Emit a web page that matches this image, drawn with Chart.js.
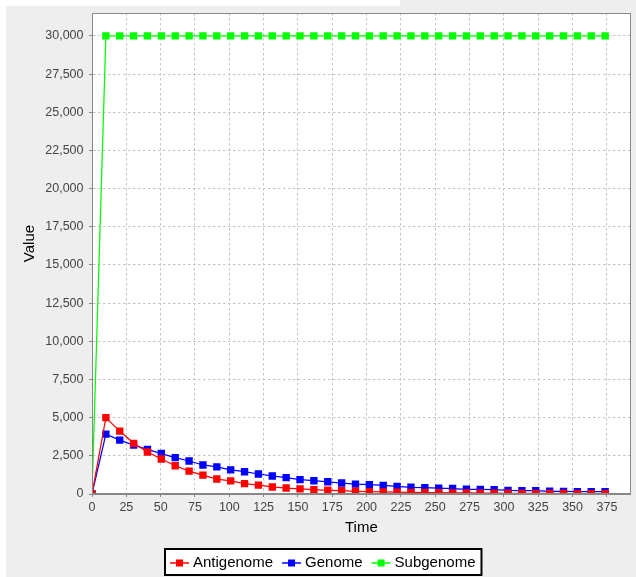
<!DOCTYPE html>
<html>
<head>
<meta charset="utf-8">
<script src="https://cdn.jsdelivr.net/npm/chart.js@4.4.1/dist/chart.umd.min.js"></script>
<style>
  html, body { margin: 0; padding: 0; background: #ffffff; }
  #wrap { width: 636px; height: 577px; }
</style>
</head>
<body>
<div id="wrap"><canvas id="c" width="636" height="577"></canvas></div>
<script>
// Simulation output: time points and copy numbers per RNA species
const times = [0, 10.1, 20.2, 30.3, 40.4, 50.5, 60.6, 70.7, 80.8, 90.9,
  101, 111.1, 121.2, 131.3, 141.4, 151.5, 161.6, 171.7, 181.8, 191.9,
  202, 212.1, 222.2, 232.3, 242.4, 252.5, 262.6, 272.7, 282.8, 292.9,
  303, 313.1, 323.2, 333.3, 343.4, 353.5, 363.6, 373.7];

const antigenome = [0, 5000, 4120, 3320, 2750, 2290, 1850, 1500, 1240, 980,
  860, 680, 580, 460, 390, 340, 290, 245, 215, 180,
  160, 140, 120, 105, 95, 85, 75, 68, 60, 54,
  48, 43, 39, 35, 31, 28, 25, 23];

const genome = [0, 3920, 3530, 3200, 2920, 2650, 2380, 2160, 1900, 1780,
  1580, 1460, 1310, 1180, 1070, 940, 870, 800, 720, 650,
  615, 560, 500, 440, 420, 380, 360, 310, 295, 280,
  235, 225, 215, 180, 170, 160, 155, 150];

const subgenome = [0, 30000, 30000, 30000, 30000, 30000, 30000, 30000, 30000, 30000,
  30000, 30000, 30000, 30000, 30000, 30000, 30000, 30000, 30000, 30000,
  30000, 30000, 30000, 30000, 30000, 30000, 30000, 30000, 30000, 30000,
  30000, 30000, 30000, 30000, 30000, 30000, 30000, 30000];

// Axis tick values
const xTicks = [0, 25, 50, 75, 100, 125, 150, 175, 200, 225, 250, 275, 300, 325, 350, 375];
const yTicks = [0, 2500, 5000, 7500, 10000, 12500, 15000, 17500, 20000, 22500,
  25000, 27500, 30000];

const seriesNames = ['Antigenome', 'Genome', 'Subgenome'];
const seriesColors = ['#ff0000', '#0000ff', '#00ff00'];
const seriesValues = [antigenome, genome, subgenome];

const xTitle = 'Time';
const yTitle = 'Value';

const FONT = '"Liberation Sans", Arial, sans-serif';

function toPoints(values) {
  return values.map((v, i) => ({ x: times[i], y: v }));
}

// Panel background, white plot area, plot outline and the vertical axis title
const panelPlugin = {
  id: 'panel',
  beforeDraw(chart) {
    const ctx = chart.ctx;
    const a = chart.chartArea;
    ctx.save();
    ctx.fillStyle = '#ffffff';
    ctx.fillRect(0, 0, chart.width, chart.height);
    ctx.fillStyle = '#eeeeee';
    ctx.fillRect(6, 6, chart.width - 6, chart.height - 6);
    ctx.fillRect(400, 0, chart.width - 400, 6);
    ctx.fillStyle = '#ffffff';
    ctx.fillRect(a.left, a.top, a.right - a.left, a.bottom - a.top);
    ctx.restore();
  },
  afterDraw(chart) {
    const ctx = chart.ctx;
    const a = chart.chartArea;
    ctx.save();
    ctx.strokeStyle = '#888888';
    ctx.lineWidth = 1;
    ctx.strokeRect(Math.round(a.left) + 0.5, Math.round(a.top) + 0.5,
      Math.round(a.right - a.left) - 1, Math.round(a.bottom - a.top) - 1);

    ctx.translate(30, (a.top + a.bottom) / 2 - 10);
    ctx.rotate(-Math.PI / 2);
    ctx.fillStyle = '#000000';
    ctx.font = '15px ' + FONT;
    ctx.textAlign = 'center';
    ctx.textBaseline = 'middle';
    ctx.fillText(yTitle, 0, 0);
    ctx.restore();
  }
};

// Framed legend below the chart: line + square marker, then the series name
const legendPlugin = {
  id: 'framedLegend',
  afterDraw(chart) {
    const ctx = chart.ctx;
    ctx.save();
    ctx.font = '15px ' + FONT;
    const widths = chart.data.datasets.map(d => ctx.measureText(d.label).width);
    const lead = 6, sym = 19, gapText = 4, gapItem = 9, tail = 7;
    let total = lead + tail;
    widths.forEach((w, i) => { total += sym + gapText + w + (i ? gapItem : 0); });
    const cx = 323.3;
    const boxLeft = Math.round(cx - total / 2);
    const boxTop = 548, boxH = 28;
    ctx.fillStyle = '#ffffff';
    ctx.fillRect(boxLeft, boxTop, total, boxH);
    ctx.strokeStyle = '#000000';
    ctx.lineWidth = 2;
    ctx.strokeRect(boxLeft + 1, boxTop + 1, total - 2, boxH - 2);
    const midY = boxTop + 15;
    let x = boxLeft + lead;
    chart.data.datasets.forEach((d, i) => {
      if (i) x += gapItem;
      ctx.strokeStyle = d.borderColor;
      ctx.lineWidth = 1.5;
      ctx.beginPath();
      ctx.moveTo(x, midY);
      ctx.lineTo(x + sym, midY);
      ctx.stroke();
      ctx.fillStyle = d.backgroundColor;
      ctx.fillRect(x + sym / 2 - 3.5, midY - 3.5, 7, 7);
      x += sym + gapText;
      ctx.fillStyle = '#000000';
      ctx.textBaseline = 'middle';
      ctx.textAlign = 'left';
      ctx.fillText(d.label, x, midY);
      x += widths[i];
    });
    ctx.restore();
  }
};

const datasets = seriesNames.map((name, i) => ({
  label: name,
  data: toPoints(seriesValues[i]),
  borderColor: seriesColors[i],
  backgroundColor: seriesColors[i],
  borderWidth: 1.25,
  pointStyle: 'rect',
  pointRadius: 5.2,
  pointBorderWidth: 0,
  pointHoverRadius: 5.2,
  tension: 0,
  fill: false
}));

new Chart(document.getElementById('c'), {
  type: 'line',
  data: { datasets },
  plugins: [panelPlugin, legendPlugin],
  options: {
    responsive: false,
    animation: false,
    events: [],
    layout: { padding: { left: 6, top: 12, right: 4.5, bottom: 40 } },
    plugins: {
      legend: { display: false },
      tooltip: { enabled: false }
    },
    scales: {
      x: {
        type: 'linear',
        min: 0,
        max: 392.4,
        afterBuildTicks(scale) {
          scale.ticks = xTicks.map(v => ({ value: v }));
        },
        afterFit(scale) { scale.height = 43; },
        ticks: {
          autoSkip: false,
          maxRotation: 0,
          padding: 3,
          color: '#444444',
          font: { family: FONT, size: 12.5 }
        },
        grid: {
          color: '#c4c4c4',
          lineWidth: 1,
          tickLength: 3,
          tickColor: '#888888'
        },
        border: { display: true, color: '#888888', width: 1, dash: [2.5, 2.5] },
        title: {
          display: true,
          text: xTitle,
          color: '#000000',
          font: { family: FONT, size: 15 },
          padding: { top: 0, bottom: 0 }
        }
      },
      y: {
        type: 'linear',
        min: 0,
        max: 31500,
        afterBuildTicks(scale) {
          scale.ticks = yTicks.map(v => ({ value: v }));
        },
        afterFit(scale) { scale.width = 86; },
        ticks: {
          autoSkip: false,
          padding: 5.5,
          color: '#444444',
          font: { family: FONT, size: 12.5 }
        },
        grid: {
          color: '#c4c4c4',
          lineWidth: 1,
          tickLength: 3,
          tickColor: '#888888'
        },
        border: { display: true, color: '#888888', width: 1, dash: [2.5, 2.5] },
        title: { display: false }
      }
    }
  }
});
</script>
</body>
</html>
